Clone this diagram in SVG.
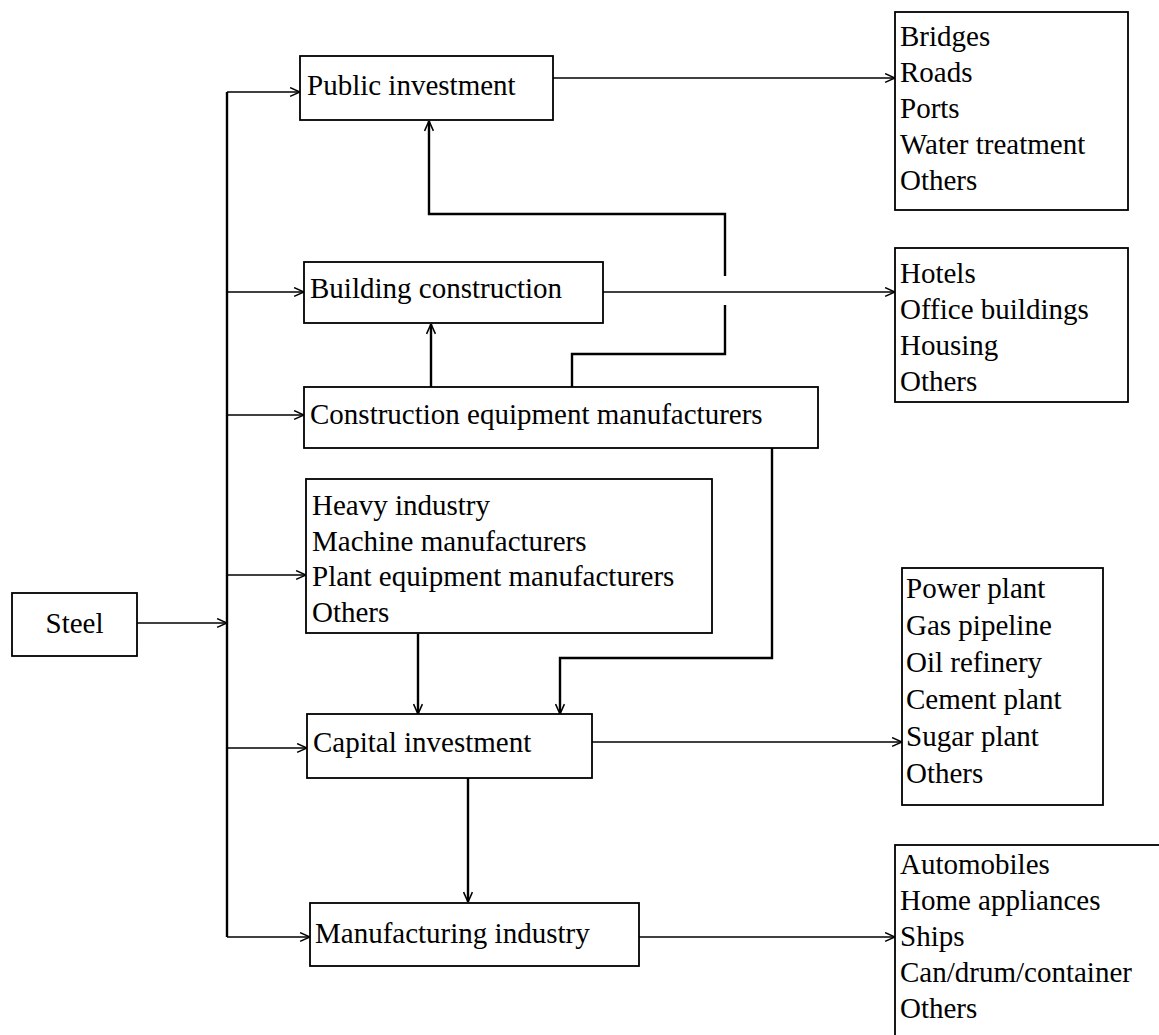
<svg xmlns="http://www.w3.org/2000/svg" width="1159" height="1035" viewBox="0 0 1159 1035">
<defs>
<marker id="arr" viewBox="0 0 10 10" refX="10" refY="5" markerWidth="11" markerHeight="11" markerUnits="userSpaceOnUse" orient="auto">
<path d="M1,1 L10,5 L1,9" fill="none" stroke="#000" stroke-width="1.4"/>
</marker>
</defs>
<style>
.box{fill:#fff;stroke:#000;stroke-width:1.8}
.t{font-family:"Liberation Serif","Times New Roman",serif;font-size:29px;fill:#000}
.c{fill:none;stroke:#000;stroke-width:1.4}
.th{fill:none;stroke:#000;stroke-width:2.4}
</style>
<rect width="1159" height="1035" fill="#fff"/>
<g id="connectors">
<path class="th" d="M227,92 V937"/>
<path class="c" d="M137,623 H227" marker-end="url(#arr)"/>
<path class="c" d="M227,92 H300" marker-end="url(#arr)"/>
<path class="c" d="M227,292 H304" marker-end="url(#arr)"/>
<path class="c" d="M227,415 H304" marker-end="url(#arr)"/>
<path class="c" d="M227,575 H306" marker-end="url(#arr)"/>
<path class="c" d="M227,748 H307" marker-end="url(#arr)"/>
<path class="c" d="M227,937 H310" marker-end="url(#arr)"/>
<path class="c" d="M553,78 H895" marker-end="url(#arr)"/>
<path class="c" d="M603,292 H895" marker-end="url(#arr)"/>
<path class="c" d="M592,742 H902" marker-end="url(#arr)"/>
<path class="c" d="M639,937 H895" marker-end="url(#arr)"/>
<path class="th" d="M572,387 V354 H725 V305"/>
<path class="th" d="M725,276 V214 H429 V121" marker-end="url(#arr)"/>
<path class="th" d="M431,387 V324" marker-end="url(#arr)"/>
<path class="th" d="M418,634 V714" marker-end="url(#arr)"/>
<path class="th" d="M772,448 V658 H560 V714" marker-end="url(#arr)"/>
<path class="th" d="M468,778 V902" marker-end="url(#arr)"/>
</g>
<g id="steel">
<rect class="box" x="12" y="593" width="125" height="63"/>
<text class="t" x="74.5" y="633" text-anchor="middle">Steel</text>
</g>
<g id="public-investment">
<rect class="box" x="300" y="56" width="253" height="64"/>
<text class="t" x="307" y="95">Public investment</text>
</g>
<g id="building-construction">
<rect class="box" x="304" y="262" width="299" height="61"/>
<text class="t" x="310" y="298">Building construction</text>
</g>
<g id="construction-equipment">
<rect class="box" x="304" y="387" width="514" height="61"/>
<text class="t" x="310" y="424">Construction equipment manufacturers</text>
</g>
<g id="heavy-industry">
<rect class="box" x="306" y="479" width="406" height="154"/>
<text class="t" x="312" y="515">Heavy industry</text>
<text class="t" x="312" y="551">Machine manufacturers</text>
<text class="t" x="312" y="586">Plant equipment manufacturers</text>
<text class="t" x="312" y="622">Others</text>
</g>
<g id="capital-investment">
<rect class="box" x="307" y="714" width="285" height="64"/>
<text class="t" x="313" y="752">Capital investment</text>
</g>
<g id="manufacturing-industry">
<rect class="box" x="310" y="903" width="329" height="63"/>
<text class="t" x="315" y="943">Manufacturing industry</text>
</g>
<g id="public-products">
<rect class="box" x="895" y="12" width="233" height="198"/>
<text class="t" x="900" y="46">Bridges</text>
<text class="t" x="900" y="82">Roads</text>
<text class="t" x="900" y="118">Ports</text>
<text class="t" x="900" y="154">Water treatment</text>
<text class="t" x="900" y="190">Others</text>
</g>
<g id="building-products">
<rect class="box" x="895" y="248" width="233" height="154"/>
<text class="t" x="900" y="283">Hotels</text>
<text class="t" x="900" y="319">Office buildings</text>
<text class="t" x="900" y="355">Housing</text>
<text class="t" x="900" y="391">Others</text>
</g>
<g id="capital-products">
<rect class="box" x="902" y="568" width="201" height="237"/>
<text class="t" x="906" y="598">Power plant</text>
<text class="t" x="906" y="635">Gas pipeline</text>
<text class="t" x="906" y="672">Oil refinery</text>
<text class="t" x="906" y="709">Cement plant</text>
<text class="t" x="906" y="746">Sugar plant</text>
<text class="t" x="906" y="783">Others</text>
</g>
<g id="manufacturing-products">
<rect class="box" x="895" y="845" width="275" height="200"/>
<text class="t" x="900" y="874">Automobiles</text>
<text class="t" x="900" y="910">Home appliances</text>
<text class="t" x="900" y="946">Ships</text>
<text class="t" x="900" y="982">Can/drum/container</text>
<text class="t" x="900" y="1018">Others</text>
</g>
</svg>
